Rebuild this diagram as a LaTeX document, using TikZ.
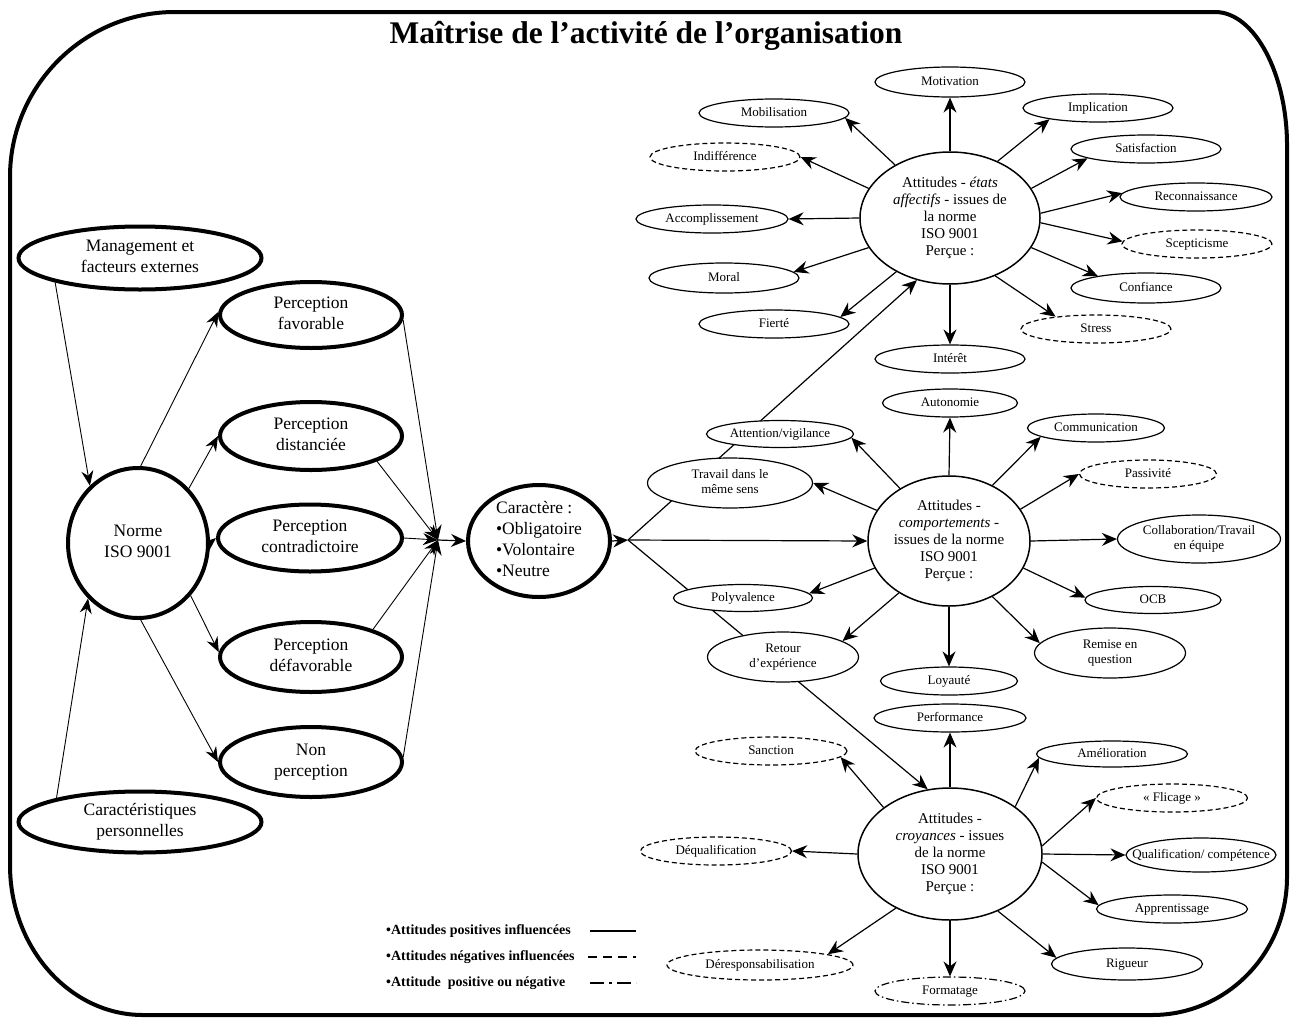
\documentclass[tikz,border=0pt]{standalone}
\usepackage{fontspec}
\setmainfont{Liberation Serif}
\usetikzlibrary{shapes.geometric,arrows.meta,backgrounds}
\newcommand\zw[1]{\smash{\makebox[0pt]{\raisebox{-0.25em}{\begin{tabular}{@{}c@{}}#1\end{tabular}}}}}
\newcommand\zwl[1]{\smash{\makebox[0pt]{\raisebox{-0.25em}{\begin{tabular}{@{}l@{}}#1\end{tabular}}}}}
\tikzset{
  ell/.style={ellipse, draw, fill=white, inner sep=0pt, line width=1.2pt, font=\fontsize{13}{15}\selectfont},
  mw/.style={minimum width=#1pt},
  mh/.style={minimum height=#1pt},
  neg/.style={dash pattern=on 5pt off 3pt},
  mix/.style={dash pattern=on 8pt off 3pt on 1.5pt off 3pt},
  circ/.style={ellipse, draw, fill=white, inner sep=0pt, line width=1.5pt, font=\fontsize{15}{17}\selectfont},
  big/.style={ellipse, draw, fill=white, inner sep=0pt, line width=4pt, font=\fontsize{17.5}{21}\selectfont},
  arr/.style={-{Stealth[length=15pt,width=13pt,inset=5pt]}, line width=1.2pt},
  thinarr/.style={-{Stealth[length=15pt,width=12pt,inset=5pt]}, line width=0.9pt},
  legtext/.style={anchor=west, inner sep=0pt, font=\fontsize{14}{16}\selectfont\bfseries},
}
\begin{document}
\begin{tikzpicture}[x=1pt,y=-1pt]
\useasboundingbox (0,0) rectangle (1292,1017);
% frame
\draw[line width=4pt] (10,177) .. controls (10,86) and (84,12) .. (175,12)
  -- (1215,12) .. controls (1255,12) and (1287,75) .. (1287,145)
  -- (1287,877) .. controls (1287,953) and (1227,1015) .. (1152,1015)
  -- (143,1015) .. controls (70,1015) and (10,948) .. (10,865) -- cycle;
\node[font=\fontsize{31.5}{34}\selectfont\bfseries] (title) at (646,36) {Maîtrise de l’activité de l’organisation};

% left part
\node[big, mw=243, mh=63] (man) at (140,258) {\zw{Management et\\facteurs externes}};
\node[big, mw=140, mh=150] (nor) at (138,543) {\zw{Norme\\ISO 9001}};
\node[big, mw=243, mh=61] (car) at (140,822) {\zw{Caractéristiques\\personnelles}};
\node[big, mw=182, mh=66] (pfa) at (311,315) {\zw{Perception\\favorable}};
\node[big, mw=182, mh=68] (pdi) at (311,436) {\zw{Perception\\distanciée}};
\node[big, mw=184, mh=67] (pco) at (310,538) {\zw{Perception\\contradictoire}};
\node[big, mw=182, mh=70] (pde) at (311,657) {\zw{Perception\\défavorable}};
\node[big, mw=182, mh=70] (pno) at (311,762) {\zw{Non\\perception}};
\coordinate (J) at (438,540);
\node[big, mw=142, mh=112] (cara) at (539,541) {\zwl{Caractère :\\•Obligatoire\\•Volontaire\\•Neutre}};
\coordinate (B) at (628,540);

% top cluster
\node[circ, mw=180, mh=132] (A) at (950,218) {\zw{Attitudes - \textit{états}\\\textit{affectifs} - issues de\\la norme\\ISO 9001\\Perçue :}};
\node[ell, mw=150, mh=30] (mot) at (950,82) {\zw{Motivation}};
\node[ell, mw=150, mh=28] (mob) at (774,113) {\zw{Mobilisation}};
\node[ell, mw=150, mh=28] (imp) at (1098,108) {\zw{Implication}};
\node[ell, neg, mw=150, mh=28] (ind) at (725,157) {\zw{Indifférence}};
\node[ell, mw=150, mh=28] (sat) at (1146,149) {\zw{Satisfaction}};
\node[ell, mw=152, mh=28] (rec) at (1196,197) {\zw{Reconnaissance}};
\node[ell, mw=152, mh=28] (acc) at (712,219) {\zw{Accomplissement}};
\node[ell, neg, mw=150, mh=28] (sce) at (1197,244) {\zw{Scepticisme}};
\node[ell, mw=150, mh=30] (mor) at (724,278) {\zw{Moral}};
\node[ell, mw=150, mh=30] (con) at (1146,288) {\zw{Confiance}};
\node[ell, mw=150, mh=28] (fie) at (774,324) {\zw{Fierté}};
\node[ell, neg, mw=150, mh=28] (str) at (1096,329) {\zw{Stress}};
\node[ell, mw=150, mh=28] (int) at (950,359) {\zw{Intérêt}};

% middle cluster
\node[circ, mw=162, mh=130] (M) at (949,541) {\zw{Attitudes -\\\textit{comportements} -\\issues de la norme\\ISO 9001\\Perçue :}};
\node[ell, mw=135, mh=28] (aut) at (950,403) {\zw{Autonomie}};
\node[ell, mw=147, mh=27] (att) at (780,434) {\zw{Attention/vigilance}};
\node[ell, mw=137, mh=28] (com) at (1096,428) {\zw{Communication}};
\node[ell, mw=165, mh=50] (tra) at (730,483) {\zw{Travail dans le\\même sens}};
\node[ell, neg, mw=137, mh=28] (pas) at (1148,474) {\zw{Passivité}};
\node[ell, mw=163, mh=48] (col) at (1199,539) {\zw{Collaboration/Travail\\en équipe}};
\node[ell, mw=139, mh=27] (pol) at (743,598) {\zw{Polyvalence}};
\node[ell, mw=136, mh=27] (ocb) at (1153,600) {\zw{OCB}};
\node[ell, mw=151, mh=50] (ret) at (783,657) {\zw{Retour\\d’expérience}};
\node[ell, mw=151, mh=50] (rem) at (1110,653) {\zw{Remise en\\question}};
\node[ell, mw=137, mh=28] (loy) at (949,681) {\zw{Loyauté}};

% bottom cluster
\node[circ, mw=184, mh=132] (K) at (950,854) {\zw{Attitudes -\\\textit{croyances} - issues\\de la norme\\ISO 9001\\Perçue :}};
\node[ell, mw=152, mh=28] (per) at (950,718) {\zw{Performance}};
\node[ell, neg, mw=152, mh=28] (san) at (771,751) {\zw{Sanction}};
\node[ell, mw=151, mh=26] (ame) at (1112,754) {\zw{Amélioration}};
\node[ell, neg, mw=151, mh=28] (fli) at (1172,798) {\zw{« Flicage »}};
\node[ell, neg, mw=151, mh=28] (deq) at (716,851) {\zw{Déqualification}};
\node[ell, mw=150, mh=34] (qua) at (1201,855) {\zw{Qualification/ compétence}};
\node[ell, mw=151, mh=28] (app) at (1172,909) {\zw{Apprentissage}};
\node[ell, neg, mw=186, mh=30] (der) at (760,965) {\zw{Déresponsabilisation}};
\node[ell, mw=151, mh=32] (rig) at (1127,964) {\zw{Rigueur}};
\node[ell, mix, mw=150, mh=28] (for) at (950,991) {\zw{Formatage}};

% legend
\node[legtext] (lg1) at (386,931) {•Attitudes positives influencées};
\node[legtext] (lg2) at (386,957) {•Attitudes négatives influencées};
\node[legtext] (lg3) at (386,983) {•Attitude\ \ positive ou négative};
\draw[line width=2.5pt] (590,931) -- (636,931);
\draw[line width=2.5pt, dash pattern=on 9pt off 6pt] (588,957) -- (636,957);
\draw[line width=2.5pt, dash pattern=on 14pt off 5pt on 3pt off 5pt] (590,983) -- (636,983);

\begin{pgfonlayer}{background}
% left connectors
\draw[thinarr] (man.196) -- (nor.130);
\draw[thinarr] (car.164) -- (nor.228);
\draw[thinarr] (nor.88) -- (pfa.178);
\draw[thinarr] (nor.47) -- (pdi.180);
\draw[thinarr] (nor.0) -- (pco.180);
\draw[thinarr] (nor.-45) -- (pde.177);
\draw[thinarr] (nor.-88) -- (pno.180);
\draw[thinarr] (pfa.-3) -- (J);
\draw[thinarr] (pdi.-21) -- (J);
\draw[thinarr] (pco.0) -- (J);
\draw[thinarr] (pde.24) -- (J);
\draw[thinarr] (pno.3) -- (J);
\draw[arr] (J) -- (cara.180);
\draw[arr] (cara.0) -- (B);
\draw[arr] (B) -- (A.-118);
\draw[arr] (B) -- (M.180);
\draw[arr] (B) -- (K.109);
% top
\draw[arr] (A.136) -- (mob.-4);
\draw[arr] (A.90) -- (mot.-90);
\draw[arr] (A.50) -- (imp.193);
\draw[arr] (A.160) -- (ind.0);
\draw[arr] (A.20) -- (sat.189);
\draw[arr] (A.180) -- (acc.0);
\draw[arr] (A.3) -- (rec.177);
\draw[arr] (A.-3) -- (sce.178);
\draw[arr] (A.-160) -- (mor.5);
\draw[arr] (A.-20) -- (con.166);
\draw[arr] (A.-135) -- (fie.6);
\draw[arr] (A.-52) -- (str.163);
\draw[arr] (A.-90) -- (int.90);
% middle
\draw[arr] (M.90) -- (aut.-90);
\draw[arr] (M.133) -- (att.-3);
\draw[arr] (M.157) -- (tra.0);
\draw[arr] (M.52) -- (com.189);
\draw[arr] (M.24) -- (pas.180);
\draw[arr] (M.0) -- (col.180);
\draw[arr] (M.-160) -- (pol.4);
\draw[arr] (M.-20) -- (ocb.178);
\draw[arr] (M.-134) -- (ret.15);
\draw[arr] (M.-52) -- (rem.172);
\draw[arr] (M.-90) -- (loy.90);
% bottom
\draw[arr] (K.90) -- (per.-90);
\draw[arr] (K.145) -- (san.-5);
\draw[arr] (K.36) -- (ame.183);
\draw[arr] (K.5) -- (fli.180);
\draw[arr] (K.0) -- (qua.180);
\draw[arr] (K.-5) -- (app.177);
\draw[arr] (K.180) -- (deq.0);
\draw[arr] (K.-135) -- (der.9);
\draw[arr] (K.-90) -- (for.90);
\draw[arr] (K.-50) -- (rig.175);
\end{pgfonlayer}
\end{tikzpicture}
\end{document}
